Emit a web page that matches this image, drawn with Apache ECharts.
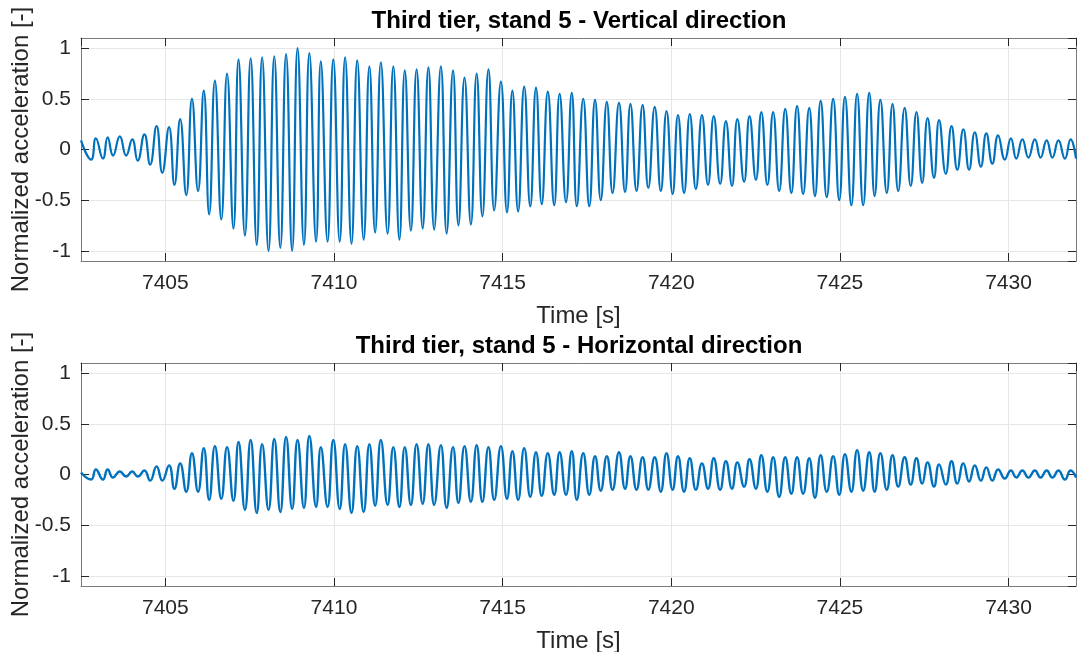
<!DOCTYPE html>
<html>
<head>
<meta charset="utf-8">
<script src="https://cdn.jsdelivr.net/npm/echarts@6/dist/echarts.min.js"></script>
<style>
  html, body { margin: 0; padding: 0; background: #fff; }
  #main { width: 1077px; height: 652px; }
</style>
</head>
<body>
<div id="main"></div>
<script>
// time of each peak / trough [s]
var times = [
    7402.50, 7402.80, 7402.94, 7403.15, 7403.29, 7403.45, 7403.65, 7403.84, 7404.02, 7404.18,
    7404.38, 7404.55, 7404.74, 7404.91, 7405.11, 7405.27, 7405.44, 7405.62, 7405.79, 7405.97,
    7406.14, 7406.30, 7406.47, 7406.66, 7406.83, 7407.02, 7407.17, 7407.36, 7407.53, 7407.71,
    7407.87, 7408.06, 7408.23, 7408.41, 7408.58, 7408.76, 7408.92, 7409.11, 7409.27, 7409.47,
    7409.61, 7409.81, 7409.98, 7410.17, 7410.33, 7410.52, 7410.69, 7410.88, 7411.05, 7411.22,
    7411.39, 7411.59, 7411.76, 7411.94, 7412.10, 7412.28, 7412.45, 7412.63, 7412.80, 7412.97,
    7413.17, 7413.34, 7413.53, 7413.69, 7413.87, 7414.06, 7414.23, 7414.40, 7414.58, 7414.75,
    7414.95, 7415.13, 7415.29, 7415.46, 7415.64, 7415.82, 7415.99, 7416.16, 7416.34, 7416.53,
    7416.69, 7416.88, 7417.05, 7417.20, 7417.39, 7417.57, 7417.74, 7417.91, 7418.09, 7418.26,
    7418.45, 7418.63, 7418.79, 7418.97, 7419.15, 7419.32, 7419.51, 7419.69, 7419.86, 7420.04,
    7420.20, 7420.38, 7420.55, 7420.73, 7420.91, 7421.09, 7421.26, 7421.45, 7421.62, 7421.80,
    7421.96, 7422.16, 7422.32, 7422.51, 7422.67, 7422.85, 7423.02, 7423.20, 7423.38, 7423.56,
    7423.73, 7423.91, 7424.09, 7424.26, 7424.43, 7424.61, 7424.80, 7424.98, 7425.15, 7425.34,
    7425.51, 7425.69, 7425.87, 7426.03, 7426.20, 7426.39, 7426.56, 7426.73, 7426.92, 7427.10,
    7427.27, 7427.44, 7427.60, 7427.79, 7427.94, 7428.14, 7428.31, 7428.48, 7428.66, 7428.83,
    7429.00, 7429.18, 7429.34, 7429.52, 7429.69, 7429.89, 7430.07, 7430.23, 7430.41, 7430.59,
    7430.78, 7430.95, 7431.13, 7431.30, 7431.48, 7431.67, 7431.84, 7432.00
];

// vertical direction, normalized acceleration at those times
var vertical = [
    0.09, -0.10, 0.11, -0.09, 0.12, -0.06, 0.13, -0.06, 0.10, -0.11,
    0.15, -0.15, 0.23, -0.23, 0.22, -0.35, 0.30, -0.45, 0.50, -0.41,
    0.58, -0.64, 0.68, -0.69, 0.75, -0.78, 0.89, -0.85, 0.90, -0.94,
    0.91, -1.00, 0.92, -0.97, 0.94, -1.00, 1.00, -0.94, 0.95, -0.91,
    0.87, -0.91, 0.89, -0.91, 0.91, -0.93, 0.88, -0.89, 0.82, -0.82,
    0.86, -0.83, 0.82, -0.89, 0.78, -0.80, 0.79, -0.78, 0.81, -0.79,
    0.82, -0.83, 0.78, -0.75, 0.71, -0.74, 0.75, -0.66, 0.79, -0.60,
    0.67, -0.62, 0.58, -0.61, 0.62, -0.56, 0.61, -0.54, 0.57, -0.55,
    0.55, -0.52, 0.56, -0.56, 0.50, -0.56, 0.49, -0.50, 0.47, -0.43,
    0.46, -0.42, 0.45, -0.41, 0.44, -0.38, 0.42, -0.41, 0.38, -0.44,
    0.34, -0.43, 0.35, -0.39, 0.34, -0.35, 0.33, -0.34, 0.28, -0.36,
    0.30, -0.32, 0.33, -0.30, 0.37, -0.35, 0.37, -0.41, 0.40, -0.43,
    0.43, -0.44, 0.41, -0.46, 0.48, -0.47, 0.50, -0.50, 0.52, -0.55,
    0.55, -0.55, 0.56, -0.46, 0.49, -0.43, 0.45, -0.41, 0.41, -0.36,
    0.37, -0.33, 0.31, -0.28, 0.29, -0.24, 0.23, -0.20, 0.20, -0.20,
    0.17, -0.17, 0.16, -0.14, 0.14, -0.10, 0.11, -0.09, 0.10, -0.08,
    0.10, -0.08, 0.09, -0.08, 0.09, -0.09, 0.10, -0.09
];

// horizontal direction
var horizontal = [
    0.02, -0.05, 0.05, -0.05, 0.05, -0.03, 0.03, -0.02, 0.03, -0.02,
    0.04, -0.06, 0.08, -0.06, 0.09, -0.14, 0.11, -0.17, 0.21, -0.17,
    0.26, -0.25, 0.28, -0.24, 0.27, -0.26, 0.32, -0.35, 0.34, -0.38,
    0.30, -0.35, 0.35, -0.37, 0.37, -0.34, 0.34, -0.33, 0.38, -0.32,
    0.27, -0.32, 0.34, -0.34, 0.30, -0.38, 0.28, -0.37, 0.30, -0.31,
    0.34, -0.30, 0.27, -0.32, 0.27, -0.30, 0.30, -0.29, 0.30, -0.30,
    0.29, -0.33, 0.27, -0.28, 0.28, -0.27, 0.29, -0.27, 0.27, -0.25,
    0.28, -0.24, 0.23, -0.25, 0.26, -0.22, 0.22, -0.21, 0.21, -0.20,
    0.22, -0.20, 0.23, -0.25, 0.21, -0.20, 0.18, -0.16, 0.18, -0.15,
    0.22, -0.14, 0.18, -0.15, 0.17, -0.15, 0.17, -0.17, 0.21, -0.15,
    0.18, -0.17, 0.16, -0.15, 0.11, -0.14, 0.16, -0.15, 0.13, -0.14,
    0.12, -0.12, 0.15, -0.14, 0.19, -0.17, 0.17, -0.22, 0.17, -0.19,
    0.17, -0.19, 0.16, -0.23, 0.19, -0.17, 0.18, -0.20, 0.20, -0.17,
    0.24, -0.16, 0.22, -0.17, 0.21, -0.15, 0.19, -0.12, 0.17, -0.10,
    0.16, -0.09, 0.12, -0.12, 0.10, -0.10, 0.13, -0.09, 0.11, -0.07,
    0.09, -0.06, 0.07, -0.06, 0.05, -0.04, 0.04, -0.03, 0.04, -0.03,
    0.04, -0.03, 0.04, -0.03, 0.04, -0.05, 0.04, -0.03
];

var titles = ['Third tier, stand 5 - Vertical direction', 'Third tier, stand 5 - Horizontal direction'];
var xName = 'Time [s]';
var yName = 'Normalized acceleration [-]';
var tMin = 7402.5, tMax = 7432;
var aMin = -1.1, aMax = 1.1;

var FONT = '"Liberation Sans", Arial, Helvetica, sans-serif';
var TEXT = '#262626';
var BOX = '#7a7a7a';
var GRIDC = '#e6e6e6';
var BLUE = '#0072BD';

var myChart = echarts.init(document.getElementById('main'), null, {renderer: 'canvas'});

function pairs(vals) {
    return times.map(function (t, i) { return [t, vals[i]]; });
}

// x axis: bottom one carries labels + grid, top one only ticks (matlab box)
function xAxes(g) {
    var base = {
        type: 'value', gridIndex: g, min: tMin, max: tMax,
        minInterval: 5, maxInterval: 5,
        axisLine: {show: true, onZero: false, lineStyle: {color: BOX, width: 1}},
        axisTick: {show: true, inside: true, length: 8, lineStyle: {color: TEXT, width: 1}}
    };
    var bottom = Object.assign({}, base, {
        position: 'bottom',
        name: xName, nameLocation: 'middle', nameGap: 43, nameMoveOverlap: false,
        nameTextStyle: {color: TEXT, fontSize: 24, fontFamily: FONT},
        axisLabel: {show: true, color: TEXT, fontSize: 21, fontFamily: FONT, margin: 12,
            showMinLabel: false, showMaxLabel: false,
            formatter: function (v) { return String(v); }},
        splitLine: {show: true, lineStyle: {color: GRIDC, width: 1}}
    });
    var top = Object.assign({}, base, {
        position: 'top',
        axisLabel: {show: false},
        splitLine: {show: false}
    });
    return [bottom, top];
}

function yAxes(g) {
    var base = {
        type: 'value', gridIndex: g, min: aMin, max: aMax,
        minInterval: 0.5, maxInterval: 0.5,
        axisLine: {show: true, onZero: false, lineStyle: {color: BOX, width: 1}},
        axisTick: {show: true, inside: true, length: 8, lineStyle: {color: TEXT, width: 1}}
    };
    var left = Object.assign({}, base, {
        position: 'left',
        name: yName, nameLocation: 'middle', nameGap: 48, nameRotate: 90, nameMoveOverlap: false,
        nameTextStyle: {color: TEXT, fontSize: 24, fontFamily: FONT},
        axisLabel: {show: true, color: TEXT, fontSize: 21, fontFamily: FONT, margin: 10,
            showMinLabel: false, showMaxLabel: false},
        splitLine: {show: true, lineStyle: {color: GRIDC, width: 1}}
    });
    var right = Object.assign({}, base, {
        position: 'right',
        axisLabel: {show: false},
        splitLine: {show: false}
    });
    return [left, right];
}

var option = {
    backgroundColor: '#ffffff',
    animation: false,
    grid: [
        {left: 81, top: 38, width: 995, height: 223, containLabel: false, outerBoundsMode: 'none'},
        {left: 81, top: 363, width: 995, height: 223, containLabel: false, outerBoundsMode: 'none'}
    ],
    graphic: [
        {type: 'text', x: 579, y: 9, silent: true,
            style: {text: titles[0], textAlign: 'center', align: 'center', textVerticalAlign: 'top', verticalAlign: 'top',
                fill: '#000', font: 'bold 24px ' + FONT}},
        {type: 'text', x: 579, y: 334, silent: true,
            style: {text: titles[1], textAlign: 'center', align: 'center', textVerticalAlign: 'top', verticalAlign: 'top',
                fill: '#000', font: 'bold 24px ' + FONT}}
    ],
    xAxis: xAxes(0).concat(xAxes(1)),
    yAxis: yAxes(0).concat(yAxes(1)),
    series: [
        {
            name: 'Vertical', type: 'line', xAxisIndex: 0, yAxisIndex: 0,
            data: pairs(vertical), showSymbol: false, smooth: 0.5,
            lineStyle: {color: BLUE, width: 2.2}
        },
        {
            name: 'Horizontal', type: 'line', xAxisIndex: 2, yAxisIndex: 2,
            data: pairs(horizontal), showSymbol: false, smooth: 0.5,
            lineStyle: {color: BLUE, width: 2.4}
        }
    ]
};

myChart.setOption(option);
</script>
</body>
</html>
